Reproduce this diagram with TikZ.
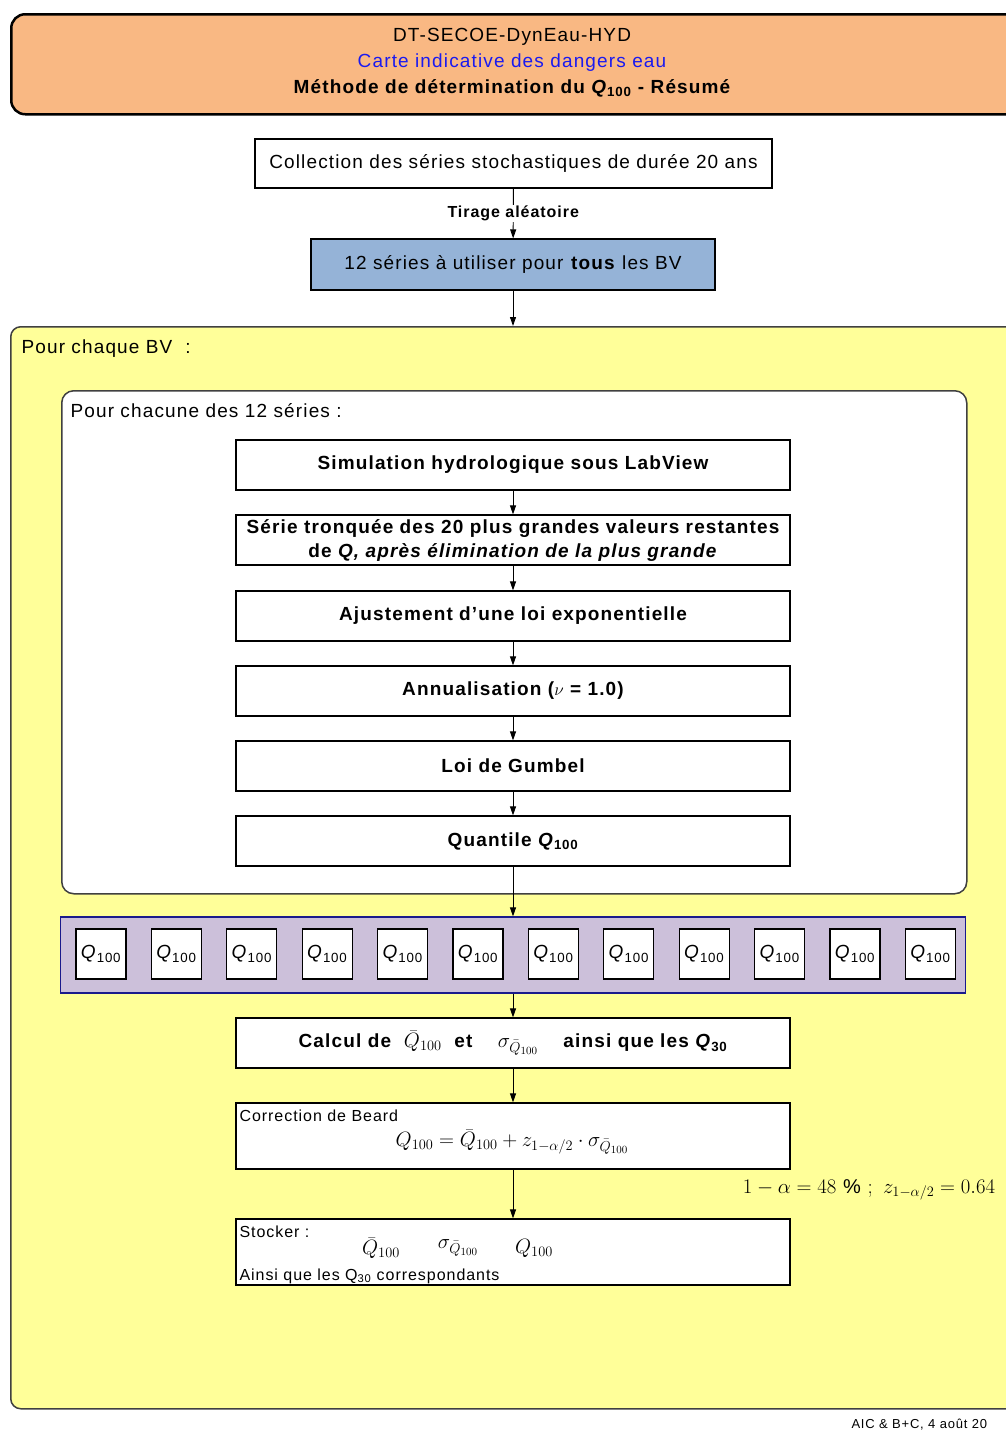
\documentclass[tikz,border=0pt]{standalone}
\usepackage{fontspec}
\setmainfont{Liberation Sans}[LetterSpace=6]
\usetikzlibrary{arrows.meta}
\definecolor{HYDHead}{HTML}{F9B883}
\definecolor{HYDSeries}{HTML}{95B3D7}
\definecolor{HYDYellow}{HTML}{FFFF99}
\definecolor{HYDLilac}{HTML}{CCC0DA}
\definecolor{HYDNavy}{HTML}{1A1A8C}
\definecolor{HYDFrame}{HTML}{404040}
\definecolor{HYDTitle}{HTML}{1A1AF0}
\newcommand{\hydmath}[1]{{\fontsize{22}{26}\selectfont$#1$}}

\begin{document}
\begin{tikzpicture}[x=1pt,y=-1pt,font=\fontsize{19}{23}\selectfont,
  stepbox/.style={draw,line width=1.2pt,fill=white,minimum width=554pt,minimum height=50pt,
                  inner sep=2pt,align=center,font=\fontsize{19}{24}\selectfont\bfseries},
  qbox/.style={draw,line width=1.2pt,fill=white,minimum width=50pt,minimum height=50pt,
               inner sep=0pt,font=\fontsize{19}{22}\selectfont},
  flow/.style={-{Triangle[length=9pt,width=6pt]},line width=0.9pt},
  small/.style={font=\fontsize{16}{19}\selectfont},
  formula/.style={font=\fontsize{22}{26}\selectfont}]
  \useasboundingbox (0,0) rectangle (1006,1432);

  \node[draw,line width=2.5pt,fill=HYDHead,rounded corners=14pt,minimum width=1012pt,
        minimum height=100pt,anchor=north west] (head) at (10,13) {};
  \node (headA) at (512,37) {DT-SECOE-DynEau-HYD};
  \node[text=HYDTitle] (headB) at (512,63) {Carte indicative des dangers eau};
  \node[font=\fontsize{19}{23}\selectfont\bfseries] (headC) at (512,88)
        {Méthode de détermination du \textit{Q}\textsubscript{100} - Résumé};

  \node[draw,line width=1.2pt,fill=white,minimum width=517pt,minimum height=49pt]
        (coll) at (513.5,163.5) {Collection des séries stochastiques de durée 20 ans};
  \node[draw,line width=1.2pt,fill=HYDSeries,minimum width=404pt,minimum height=51pt]
        (series) at (513,264.5) {12 séries à utiliser pour \textbf{tous} les BV};
  \draw[flow] (coll) -- node[fill=white,inner sep=1pt,font=\fontsize{16}{19}\selectfont\bfseries] (draw) {Tirage aléatoire} (series);

  \node[draw=HYDFrame,line width=1.5pt,fill=HYDYellow,rounded corners=10pt,minimum width=1012pt,
        minimum height=1082pt,anchor=north west] (bv) at (10,326) {};
  \node[anchor=west] (bvlabel) at (18,349) {Pour chaque BV\ \ :};
  \draw[flow] (series.south) -- (series.south |- bv.north);

  \node[draw=HYDFrame,line width=1.5pt,fill=white,rounded corners=12pt,minimum width=905pt,
        minimum height=503pt,anchor=north west] (serie) at (61,390) {};
  \node[anchor=west] (serielabel) at (67,411) {Pour chacune des 12 séries :};

  \node[stepbox] (sim) at (513,465) {Simulation hydrologique sous LabView};
  \node[stepbox] (trunc) at (513,540) {Série tronquée des 20 plus grandes valeurs restantes\\
        de \textit{Q, après élimination de la plus grande}};
  \node[stepbox] (fit) at (513,616) {Ajustement d'une loi exponentielle};
  \node[stepbox] (annual) at (513,691) {Annualisation ($\nu$ = 1.0)};
  \node[stepbox] (gumbel) at (513,766) {Loi de Gumbel};
  \node[stepbox] (quant) at (513,841) {Quantile \textit{Q}\textsubscript{100}};
  \draw[flow] (sim) -- (trunc);
  \draw[flow] (trunc) -- (fit);
  \draw[flow] (fit) -- (annual);
  \draw[flow] (annual) -- (gumbel);
  \draw[flow] (gumbel) -- (quant);

  \node[draw=HYDNavy,line width=1.2pt,fill=HYDLilac,minimum width=905pt,minimum height=76pt]
        (qrow) at (513,955) {};
  \foreach \i in {0,...,11}
    \node[qbox] (q\i) at (101+75.4*\i,954) {\textit{Q}\textsubscript{100}};
  \draw[flow] (quant) -- (qrow);

  \node[stepbox] (calc) at (513,1043)
        {Calcul de\ \ \hydmath{\bar{Q}_{100}}\ \ et\quad\ \hydmath{\sigma_{\bar{Q}_{100}}}\quad\ ainsi que les \textit{Q}\textsubscript{30}};
  \node[stepbox,minimum height=66pt] (beard) at (513,1136) {};
  \node[anchor=west,small] (beardlabel) at (236,1116) {Correction de Beard};
  \node[formula] (beardeq) at (512,1142)
        {$Q_{100} = \bar{Q}_{100} + z_{1-\alpha/2}\cdot\sigma_{\bar{Q}_{100}}$};
  \node[stepbox,minimum height=66pt] (store) at (513,1252) {};
  \node[anchor=west,small] (storelabel) at (236,1232) {Stocker :};
  \node[formula] (storeqm) at (381,1248) {$\bar{Q}_{100}$};
  \node[formula] (storesig) at (458,1248) {$\sigma_{\bar{Q}_{100}}$};
  \node[formula] (storeq) at (534,1248) {$Q_{100}$};
  \node[anchor=west,small] (storenote) at (236,1276)
        {Ainsi que les Q\textsubscript{30} correspondants};
  \draw[flow] (qrow) -- (calc);
  \draw[flow] (calc) -- (beard);
  \draw[flow] (beard) -- (store);
  \node[font=\fontsize{20}{24}\selectfont] (alpha) at (869,1190)
        {$1-\alpha = 48~\%\ ;\ z_{1-\alpha/2} = 0.64$};

  \node[anchor=west,font=\fontsize{13}{15}\selectfont] (foot) at (848,1425) {AIC \& B+C, 4 août 20};
\end{tikzpicture}
\end{document}
